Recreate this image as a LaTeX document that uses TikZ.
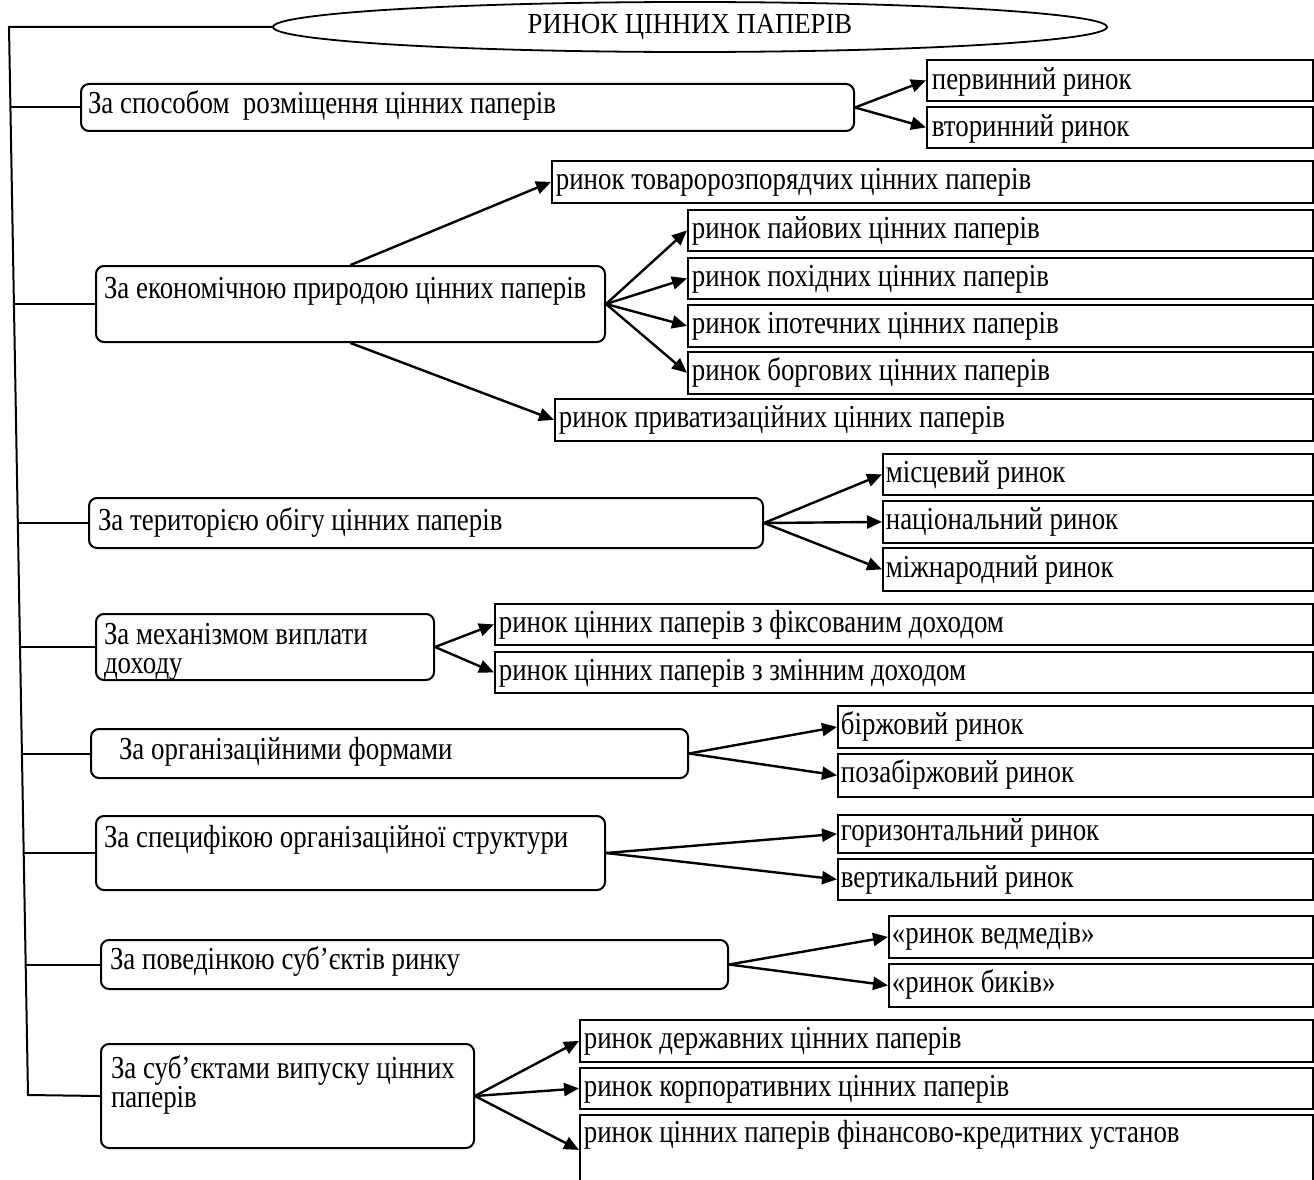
\documentclass[tikz,border=0pt]{standalone}
\usepackage{fontspec}
\setmainfont[FakeStretch=0.84]{Liberation Serif}
\newfontfamily\titlefont[FakeStretch=0.92]{Liberation Serif}
\usetikzlibrary{shapes.geometric,arrows.meta}
\newcommand\mybox[9]{%
  \node[#1, anchor=north west, inner ysep=0pt, inner xsep=#7pt,
        minimum width={(#5-#3)*1pt}, minimum height={(#6-#4)*1pt}] (#2) at (#3,#4)
  {\parbox[c][\dimexpr#6pt-#4pt\relax][t]{\dimexpr#5pt-#3pt-#7pt-#7pt\relax}{\lineskiplimit-50pt\raggedright\rule{0pt}{#8pt}#9}};}
\begin{document}
\begin{tikzpicture}[x=1pt,y=-1pt,
  font=\fontsize{32pt}{29.5pt}\selectfont,
  parent/.style={draw, rounded corners=8pt, line width=2pt},
  child/.style={draw, line width=1.8pt},
  conn/.style={line width=2pt},
  arr/.style={line width=2.4pt, -{Triangle[length=15pt,width=13pt]}},
  titlestyle/.style={draw, ellipse, line width=1.8pt, minimum width=834pt, minimum height=50pt, inner sep=0pt,
     font=\titlefont\fontsize{29pt}{30pt}\selectfont}]
\useasboundingbox (0,0) rectangle (1314,1180);
\clip (0,0) rectangle (1314,1180);

% title
\node[titlestyle] (title) at (690,27) {РИНОК ЦІННИХ ПАПЕРІВ};

% parent boxes
\mybox{parent}{b1}{80}{83}{853}{130}{7}{30}{За способом~ розміщення цінних паперів}
\mybox{parent}{b2}{95}{265}{604}{341}{8}{32}{За економічною природою цінних паперів}
\mybox{parent}{b3}{88}{497}{762}{547}{9}{32}{За територією обігу цінних паперів}
\mybox{parent}{b4}{95}{613}{433}{679}{8}{30}{За механізмом виплати\\доходу}
\mybox{parent}{b5}{90}{728}{687}{777}{28}{30}{За організаційними формами}
\mybox{parent}{b6}{95}{815}{604}{889}{8}{31}{За специфікою організаційної структури}
\mybox{parent}{b7}{100}{939}{727}{988}{9}{29}{За поведінкою суб’єктів ринку}
\mybox{parent}{b8}{100}{1043}{473}{1147}{10}{34}{За суб’єктами випуску цінних\\паперів}

% child boxes
\mybox{child}{c11}{926}{59}{1312}{100}{5}{30}{первинний ринок}
\mybox{child}{c12}{926}{106}{1312}{147}{5}{30}{вторинний ринок}
\mybox{child}{c21}{551}{160}{1312}{202}{4}{29}{ринок товаророзпорядчих цінних паперів}
\mybox{child}{c22}{687}{209}{1312}{250}{4}{29}{ринок пайових цінних паперів}
\mybox{child}{c23}{687}{257}{1312}{298}{4}{29}{ринок похідних цінних паперів}
\mybox{child}{c24}{687}{304}{1312}{346}{4}{29}{ринок іпотечних цінних паперів}
\mybox{child}{c25}{687}{351}{1312}{393}{4}{29}{ринок боргових цінних паперів}
\mybox{child}{c26}{554}{398}{1312}{440}{4}{29}{ринок приватизаційних цінних паперів}
\mybox{child}{c31}{882}{453}{1312}{494}{3}{29}{місцевий ринок}
\mybox{child}{c32}{882}{500}{1312}{542}{3}{29}{національний ринок}
\mybox{child}{c33}{882}{547}{1312}{590}{3}{30}{міжнародний ринок}
\mybox{child}{c41}{494}{603}{1312}{644}{4}{29}{ринок цінних паперів з фіксованим доходом}
\mybox{child}{c42}{494}{651}{1312}{692}{4}{29}{ринок цінних паперів з змінним доходом}
\mybox{child}{c51}{837}{705}{1312}{747}{3}{29}{біржовий ринок}
\mybox{child}{c52}{837}{753}{1312}{796}{3}{29}{позабіржовий ринок}
\mybox{child}{c61}{837}{814}{1312}{852}{3}{26}{горизонтальний ринок}
\mybox{child}{c62}{837}{858}{1312}{899}{3}{29}{вертикальний ринок}
\mybox{child}{c71}{888}{915}{1312}{957}{3}{28}{«ринок ведмедів»}
\mybox{child}{c72}{888}{963}{1312}{1006}{3}{29}{«ринок биків»}
\mybox{child}{c81}{579}{1019}{1312}{1061}{4}{29}{ринок державних цінних паперів}
\mybox{child}{c82}{579}{1067}{1312}{1108}{4}{29}{ринок корпоративних цінних паперів}
\mybox{child}{c83}{579}{1114}{1312}{1184}{4}{28}{ринок цінних паперів фінансово-кредитних установ}

% spine
\coordinate (sTop) at (9,27);
\coordinate (sBot) at (28,1095);
\draw[conn] (title.west) -- (sTop) -- (sBot) -- (b8.west);
\coordinate (s1) at (10.4,0);
\coordinate (s2) at (13.9,0);
\coordinate (s3) at (17.8,0);
\coordinate (s4) at (20.0,0);
\coordinate (s5) at (21.9,0);
\coordinate (s6) at (23.7,0);
\coordinate (s7) at (25.6,0);
\draw[conn] (b1.west -| s1) -- (b1.west);
\draw[conn] (b2.west -| s2) -- (b2.west);
\draw[conn] (b3.west -| s3) -- (b3.west);
\draw[conn] (b4.west -| s4) -- (b4.west);
\draw[conn] (b5.west -| s5) -- (b5.west);
\draw[conn] (b6.west -| s6) -- (b6.west);
\draw[conn] (b7.west -| s7) -- (b7.west);

% arrows
\draw[arr] (b1.east) -- (c11.west);
\draw[arr] (b1.east) -- (c12.west);
\draw[arr] (b2.north) -- (c21.west);
\draw[arr] (b2.east) -- (c22.west);
\draw[arr] (b2.east) -- (c23.west);
\draw[arr] (b2.east) -- (c24.west);
\draw[arr] (b2.east) -- (c25.west);
\draw[arr] (b2.south) -- (c26.west);
\draw[arr] (b3.east) -- (c31.west);
\draw[arr] (b3.east) -- (c32.west);
\draw[arr] (b3.east) -- (c33.west);
\draw[arr] (b4.east) -- (c41.west);
\draw[arr] (b4.east) -- (c42.west);
\draw[arr] (b5.east) -- (c51.west);
\draw[arr] (b5.east) -- (c52.west);
\draw[arr] (b6.east) -- (c61.west);
\draw[arr] (b6.east) -- (c62.west);
\draw[arr] (b7.east) -- (c71.west);
\draw[arr] (b7.east) -- (c72.west);
\draw[arr] (b8.east) -- (c81.west);
\draw[arr] (b8.east) -- (c82.west);
\draw[arr] (b8.east) -- (c83.west);
\end{tikzpicture}
\end{document}
